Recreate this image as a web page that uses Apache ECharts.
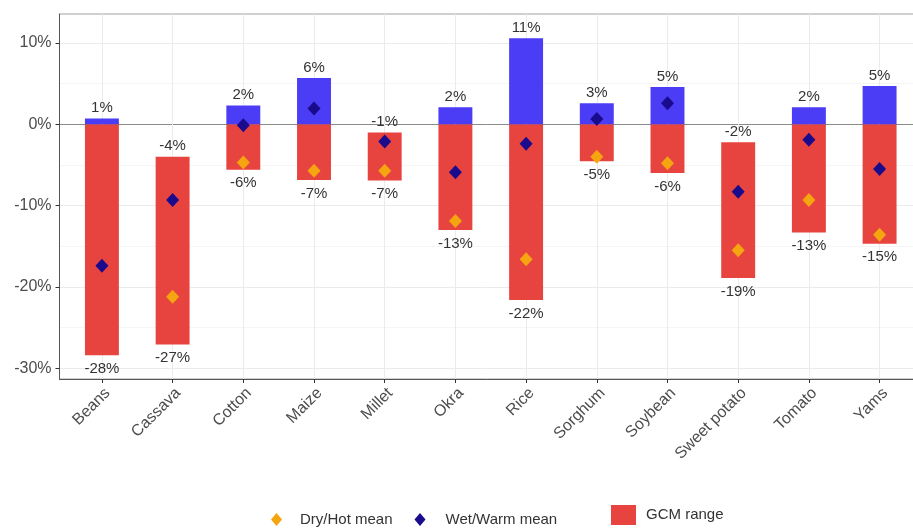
<!DOCTYPE html>
<html>
<head>
<meta charset="utf-8">
<script src="https://cdn.jsdelivr.net/npm/echarts@6/dist/echarts.min.js"></script>
<style>
html,body{margin:0;padding:0;background:#fff;}
#chart{width:913px;height:528px;}
</style>
</head>
<body>
<div id="chart"></div>
<script>
const categories = ['Beans','Cassava','Cotton','Maize','Millet','Okra','Rice','Sorghum','Soybean','Sweet potato','Tomato','Yams'];
const rangeMax = [0.7, -4.0, 2.3, 5.7, -1.0, 2.1, 10.6, 2.6, 4.6, -2.2, 2.1, 4.7];
const rangeMin = [-28.4, -27.1, -5.6, -6.85, -6.9, -13.0, -21.6, -4.55, -6.0, -18.9, -13.3, -14.7];
const dryHotMean = [null, -21.2, -4.7, -5.7, -5.7, -11.9, -16.6, -4.0, -4.8, -15.5, -9.3, -13.6];
const wetWarmMean = [-17.4, -9.3, -0.1, 1.95, -2.1, -5.9, -2.4, 0.65, 2.6, -8.3, -1.9, -5.5];
const yMajorTicks = [-30, -20, -10, 0, 10];
const yMinorTicks = [-25, -15, -5, 5];

const FONT = '"Liberation Sans", Arial, sans-serif';
const RED = '#e8443f', BLUE = '#4b3cf5', NAVY = '#1a0a8c', ORANGE = '#f5a50f';
const catIdx = categories.map((c, i) => i);
const fmtPct = v => Math.round(v) + '%';

const chart = echarts.init(document.getElementById('chart'));
const yBase = {type: 'value', min: -31.33, max: 13.57, position: 'left'};
chart.setOption({
  animation: false,
  grid: {left: 59.5, right: -9, top: 14, bottom: 149, outerBoundsMode: 'none', containLabel: false,
    show: true, borderColor: '#a0a0a0', borderWidth: 1},
  xAxis: {
    type: 'value', min: -0.6, max: 11.6,
    axisLine: {onZero: false, lineStyle: {color: '#555', width: 1}},
    axisTick: {customValues: catIdx, length: 4, lineStyle: {color: '#333'}},
    axisLabel: {customValues: catIdx, formatter: v => categories[Math.round(v)], rotate: 45, margin: 6,
      verticalAlign: 'top', color: '#4d4d4d', fontFamily: FONT, fontSize: 16},
    splitLine: {show: true, lineStyle: {color: '#ebebeb', width: 1}}
  },
  yAxis: [
    Object.assign({}, yBase, {
      axisLine: {show: true, onZero: false, lineStyle: {color: '#555', width: 1}},
      axisTick: {show: true, customValues: yMajorTicks, length: 4, lineStyle: {color: '#333'}},
      axisLabel: {customValues: yMajorTicks, formatter: v => v + '%', margin: 8,
        color: '#4d4d4d', fontFamily: FONT, fontSize: 16},
      splitLine: {show: true, lineStyle: {color: '#ebebeb', width: 1}}
    }),
    Object.assign({}, yBase, {
      axisLine: {show: false, onZero: false}, axisTick: {show: false, customValues: yMinorTicks},
      axisLabel: {show: false},
      splitLine: {show: true, lineStyle: {color: '#f5f5f5', width: 1}}
    }),
    Object.assign({}, yBase, {
      axisLine: {show: false, onZero: false}, axisTick: {show: false, customValues: [0]},
      axisLabel: {show: false},
      splitLine: {show: true, lineStyle: {color: '#8a8a8a', width: 1}}
    })
  ],
  legend: [
    {left: 271, top: 512, padding: 0, itemWidth: 11, itemHeight: 13, icon: 'diamond', data: ['Dry/Hot mean'],
      textStyle: {color: '#333', fontFamily: FONT, fontSize: 15, padding: [0, 0, 0, 13]}},
    {left: 414.5, top: 512, padding: 0, itemWidth: 11, itemHeight: 13, icon: 'diamond', data: ['Wet/Warm mean'],
      textStyle: {color: '#333', fontFamily: FONT, fontSize: 15, padding: [0, 0, 0, 15]}},
    {left: 611, top: 505, padding: 0, itemWidth: 25, itemHeight: 20, icon: 'rect', data: ['GCM range'],
      textStyle: {color: '#333', fontFamily: FONT, fontSize: 15, padding: [0, 0, 0, 5]}}
  ],
  series: [
    {
      name: 'GCM range', type: 'custom', itemStyle: {color: RED},
      data: categories.map((c, i) => [i, rangeMax[i], rangeMin[i]]),
      renderItem: (params, api) => {
        const i = api.value(0), hi = api.value(1), lo = api.value(2);
        const w = api.size([0.48, 0])[0];
        const x = api.coord([i, 0])[0];
        const y0 = api.coord([i, 0])[1];
        const yHi = api.coord([i, hi])[1];
        const yLo = api.coord([i, lo])[1];
        const redTop = hi > 0 ? y0 : yHi;
        const children = [
          {type: 'rect', shape: {x: x - w / 2, y: redTop, width: w, height: yLo - redTop}, style: {fill: RED}}
        ];
        if (hi > 0) {
          children.push({type: 'rect', shape: {x: x - w / 2, y: yHi, width: w, height: y0 - yHi}, style: {fill: BLUE}});
        }
        children.push({type: 'text', x: x, y: yHi - 3, style: {text: fmtPct(hi), fill: '#333', font: '15px ' + FONT, align: 'center', verticalAlign: 'bottom'}});
        children.push({type: 'text', x: x, y: yLo + 6, style: {text: fmtPct(lo), fill: '#333', font: '15px ' + FONT, align: 'center', verticalAlign: 'top'}});
        return {type: 'group', children: children};
      }
    },
    {
      name: 'Dry/Hot mean', type: 'scatter', symbol: 'diamond', symbolSize: [13, 14],
      itemStyle: {color: ORANGE, opacity: 1},
      data: categories.map((c, i) => [i, dryHotMean[i]])
    },
    {
      name: 'Wet/Warm mean', type: 'scatter', symbol: 'diamond', symbolSize: [13, 14],
      itemStyle: {color: NAVY, opacity: 1},
      data: categories.map((c, i) => [i, wetWarmMean[i]])
    }
  ]
});
</script>
</body>
</html>
